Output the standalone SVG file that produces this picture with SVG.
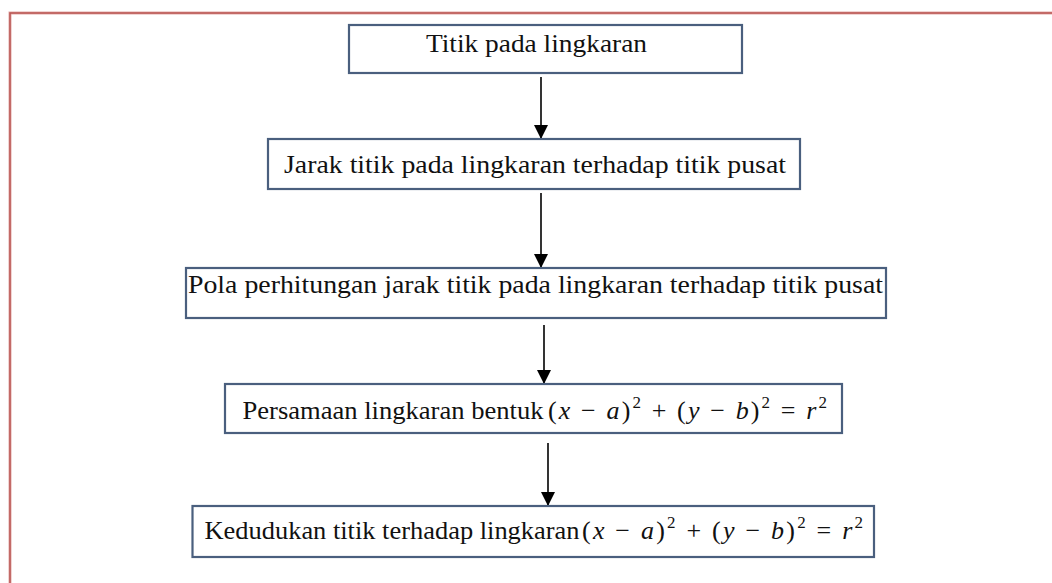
<svg xmlns="http://www.w3.org/2000/svg" width="1052" height="583" viewBox="0 0 1052 583">
<style>
.box{fill:#ffffff;stroke:#4a5f7e;stroke-width:2.2}
.t{font-family:"Liberation Serif","Times New Roman",serif;font-size:25px;fill:#111111}
.m{font-family:"Liberation Serif","Times New Roman",serif;font-size:26px;fill:#111111}
.i{font-style:italic}
.sup{font-size:17px}
.conn{stroke:#000000;stroke-width:1.6;fill:none;marker-end:url(#ah)}
</style>
<defs>
<marker id="ah" viewBox="0 0 14 14" refX="14" refY="7" markerWidth="14" markerHeight="14" markerUnits="userSpaceOnUse" orient="auto">
<path d="M0,0 L14,7 L0,14 Z" fill="#000000"/>
</marker>
</defs>
<rect width="1052" height="583" fill="#ffffff"/>
<path d="M10,583 V13 H1052" fill="none" stroke="#e3a9a8" stroke-width="3"/>
<path d="M10,583 V13 H1052" fill="none" stroke="#b95552" stroke-width="1.5"/>
<g id="connectors">
<line class="conn" x1="541" y1="77" x2="541" y2="139"/>
<line class="conn" x1="541" y1="193" x2="541" y2="268"/>
<line class="conn" x1="544" y1="325" x2="544" y2="384"/>
<line class="conn" x1="548" y1="443" x2="548" y2="506"/>
</g>
<g id="node1">
<rect class="box" x="349" y="25" width="393" height="48"/>
<text class="t" x="426" y="52" textLength="221" lengthAdjust="spacingAndGlyphs">Titik pada lingkaran</text>
</g>
<g id="node2">
<rect class="box" x="268" y="139" width="532" height="50"/>
<text class="t" x="284" y="173" textLength="502" lengthAdjust="spacingAndGlyphs">Jarak titik pada lingkaran terhadap titik pusat</text>
</g>
<g id="node3">
<rect class="box" x="186" y="268" width="700" height="50"/>
<text class="t" x="188" y="293" textLength="695" lengthAdjust="spacingAndGlyphs">Pola perhitungan jarak titik pada lingkaran terhadap titik pusat</text>
</g>
<g id="node4">
<rect class="box" x="225" y="384" width="617" height="49"/>
<text class="t" x="242.5" y="419" textLength="301" lengthAdjust="spacingAndGlyphs">Persamaan lingkaran bentuk</text>
<text class="m" x="548" y="419" textLength="279" lengthAdjust="spacing">(<tspan class="i">x</tspan> − <tspan class="i">a</tspan>)<tspan class="sup" dy="-11">2</tspan><tspan dy="11"> + (</tspan><tspan class="i">y</tspan> − <tspan class="i">b</tspan>)<tspan class="sup" dy="-11">2</tspan><tspan dy="11"> = </tspan><tspan class="i">r</tspan><tspan class="sup" dy="-11">2</tspan></text>
</g>
<g id="node5">
<rect class="box" x="192.5" y="506" width="681.5" height="51"/>
<text class="t" x="204.5" y="539" textLength="375" lengthAdjust="spacingAndGlyphs">Kedudukan titik terhadap lingkaran</text>
<text class="m" x="582" y="539" textLength="281" lengthAdjust="spacing">(<tspan class="i">x</tspan> − <tspan class="i">a</tspan>)<tspan class="sup" dy="-11">2</tspan><tspan dy="11"> + (</tspan><tspan class="i">y</tspan> − <tspan class="i">b</tspan>)<tspan class="sup" dy="-11">2</tspan><tspan dy="11"> = </tspan><tspan class="i">r</tspan><tspan class="sup" dy="-11">2</tspan></text>
</g>
</svg>
